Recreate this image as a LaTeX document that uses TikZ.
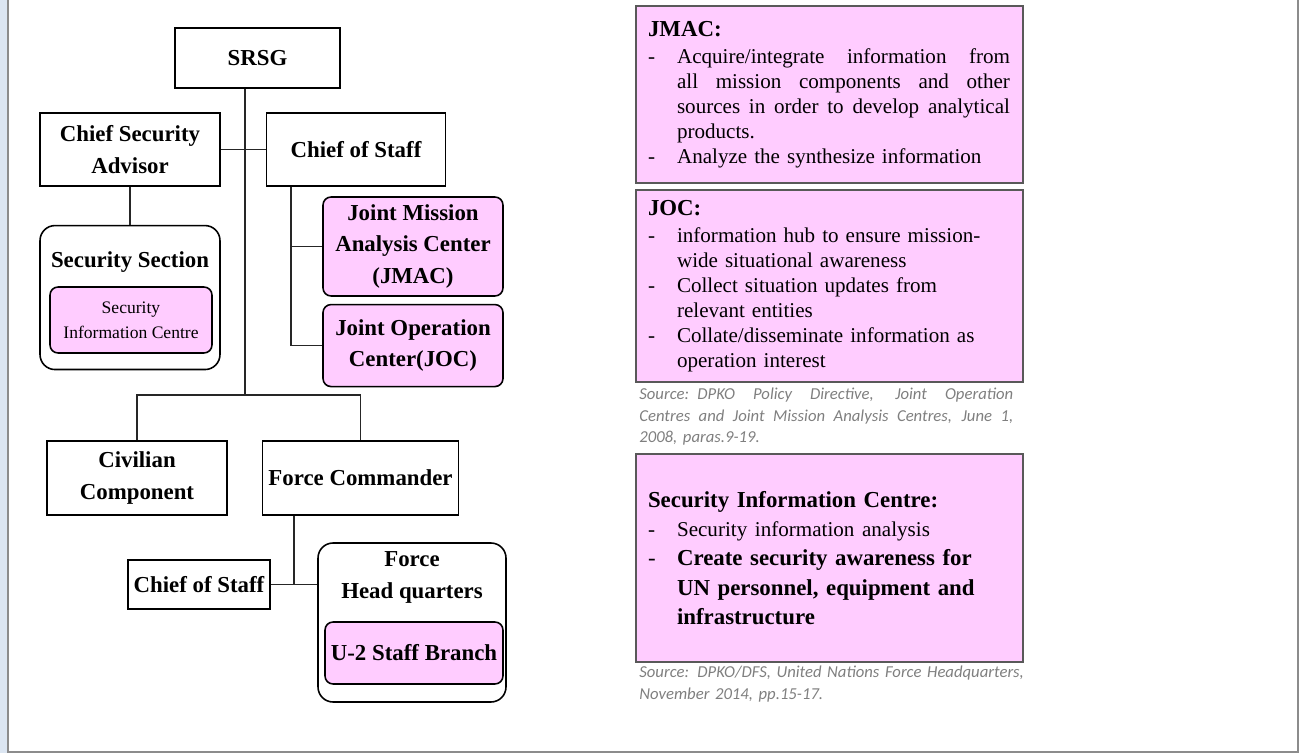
\documentclass[tikz,border=0pt]{standalone}
\usepackage{fontspec}
\setmainfont{Liberation Serif}
\newfontfamily\srcfont{Carlito}
\usepackage{xcolor}
\usepackage{tikz}
\usetikzlibrary{positioning, calc}
\definecolor{boxpink}{HTML}{FFCCFF}
\definecolor{framegray}{HTML}{8C8C8C}
\definecolor{frameblue}{HTML}{DCE6F2}
\definecolor{srcgray}{HTML}{7F7F7F}
\definecolor{infoline}{HTML}{595959}
\newcommand{\unitfont}{\fontsize{13}{18}\selectfont\bfseries}
\newcommand{\infofont}{\fontsize{12}{14.2}\selectfont}
\newcommand{\ditem}[1]{\makebox[0.58cm][l]{-}#1}
\newcommand{\dcont}[1]{\hspace*{0.58cm}#1}
\newcommand{\stretchline}[2]{\makebox[#1][s]{\spaceskip=0.25em plus 1fil\relax #2}}
\newcommand{\djust}[1]{\stretchline{6.66cm}{#1}}
\tikzstyle{unit} = [rectangle, draw=black, line width=0.9pt, fill=white, align=center, font=\unitfont]
\tikzstyle{pinkunit} = [unit, rounded corners=0.16cm, fill=boxpink]
\tikzstyle{group} = [rectangle, rounded corners=0.3cm, draw=black, line width=0.9pt, fill=white]
\tikzstyle{infobox} = [rectangle, draw=infoline, line width=1.3pt, fill=boxpink, text width=7.26cm, inner xsep=0.24cm, minimum width=7.74cm, align=left, font=\infofont]
\tikzstyle{source} = [inner sep=0pt, anchor=north west, align=left, text width=7.8cm, text=srcgray, font=\srcfont\itshape\fontsize{9.5}{12}\selectfont]
\tikzstyle{link} = [line width=0.9pt, draw=black!85]

\begin{document}
\begin{tikzpicture}[x=0.02cm, y=-0.02cm]
\useasboundingbox (0,0) rectangle (1299,753);
% window frame
\fill[frameblue] (0,0) rectangle (7,753);
\draw[framegray, line width=1.5pt] (8,0) -- (8,752) -- (1298,752) -- (1298,0);

% left chart
\node (srsg) [unit, minimum width=3.3cm, minimum height=1.2cm] at (257.5,58) {SRSG};
\node (csa) [unit, minimum width=3.6cm, minimum height=1.46cm] at (130,149.5) {Chief Security\\Advisor};
\node (cos) [unit, minimum width=3.58cm, minimum height=1.46cm, right=0.9cm of csa] {Chief of Staff};
\node (secsec) [group, minimum width=3.6cm, minimum height=2.88cm, below=0.76cm of csa] {};
\node (secsectxt) [font=\unitfont] at (130,262) {Security Section};
\node (sic) [pinkunit, minimum width=3.24cm, minimum height=1.32cm, font=\fontsize{10}{14}\selectfont] at (131,320) {Security\\Information Centre};
\node (jmac) [pinkunit, minimum width=3.6cm, minimum height=1.98cm] at (413,246.5) {Joint Mission\\Analysis Center\\(JMAC)};
\node (joc) [pinkunit, minimum width=3.6cm, minimum height=1.64cm, below=0.14cm of jmac] {Joint Operation\\Center(JOC)};
\node (civ) [unit, minimum width=3.6cm, minimum height=1.48cm] at (137,478) {Civilian\\Component};
\node (fc) [unit, minimum width=3.92cm, minimum height=1.48cm, right=0.68cm of civ] {Force Commander};
\node (cos2) [unit, minimum width=2.76cm, minimum height=0.98cm] at (199,584.5) {Chief of Staff};
\node (fhq) [group, minimum width=3.76cm, minimum height=3.18cm] at (412,622.5) {};
\node (fhqtxt) [font=\unitfont, align=center] at (412,577.5) {Force\\Head quarters};
\node (u2) [pinkunit, minimum width=3.44cm, minimum height=1.24cm] at (414,653) {U-2 Staff Branch};

\coordinate (split) at (245,395);
\coordinate (cosbus) at ([xshift=0.5cm]cos.south west);
\coordinate (fcdrop) at ([xshift=0.64cm]fc.south west);

\draw[link] (srsg.south -| split) -- (split);
\draw[link] (csa.east) -- (cos.west);
\draw[link] (csa.south) -- (secsec.north);
\draw[link] (cosbus) |- (jmac.west);
\draw[link] (cosbus) |- (joc.west);
\draw[link] (civ.north) |- (split) -| (fc.north);
\draw[link] (fcdrop) -- (fcdrop |- cos2.east);
\draw[link] (cos2.east) -- (cos2.east -| fhq.west);

% right notes
\node (jmacinfo) [infobox, minimum height=3.54cm] at (829.5,94.5) {%
{\fontsize{13}{16}\selectfont\bfseries JMAC:}\\[1pt]
\ditem{\djust{Acquire/integrate information from}}\\
\dcont{\djust{all mission components and other}}\\
\dcont{\djust{sources in order to develop analytical}}\\
\dcont{products.}\\
\ditem{Analyze the synthesize information}};
\node (jocinfo) [infobox, minimum height=3.84cm, below=0.1cm of jmacinfo] {%
{\fontsize{13}{16}\selectfont\bfseries JOC:}\\[1pt]
\ditem{information hub to ensure mission-}\\
\dcont{wide situational awareness}\\
\ditem{Collect situation updates from}\\
\dcont{relevant entities}\\
\ditem{Collate/disseminate information as}\\
\dcont{operation interest}};
\node (src1) [source] at (639,388) {%
\stretchline{7.48cm}{Source: DPKO Policy Directive, Joint Operation}\\
\stretchline{7.48cm}{Centres and Joint Mission Analysis Centres, June 1,}\\
2008, paras.9-19.};
\node (sicinfo) [infobox, minimum height=4.16cm, font=\fontsize{13}{16.7}\selectfont] at (829.5,558) {%
\textbf{Security Information Centre:}\\
{\fontsize{12}{14}\selectfont\ditem{Security information analysis}}\\
\ditem{\textbf{Create security awareness for}}\\
\dcont{\textbf{UN personnel, equipment and}}\\
\dcont{\textbf{infrastructure}}};
\node (src2) [source] at (639,666) {%
Source: DPKO/DFS, United Nations Force Headquarters,\\
November 2014, pp.15-17.};
\end{tikzpicture}
\end{document}
